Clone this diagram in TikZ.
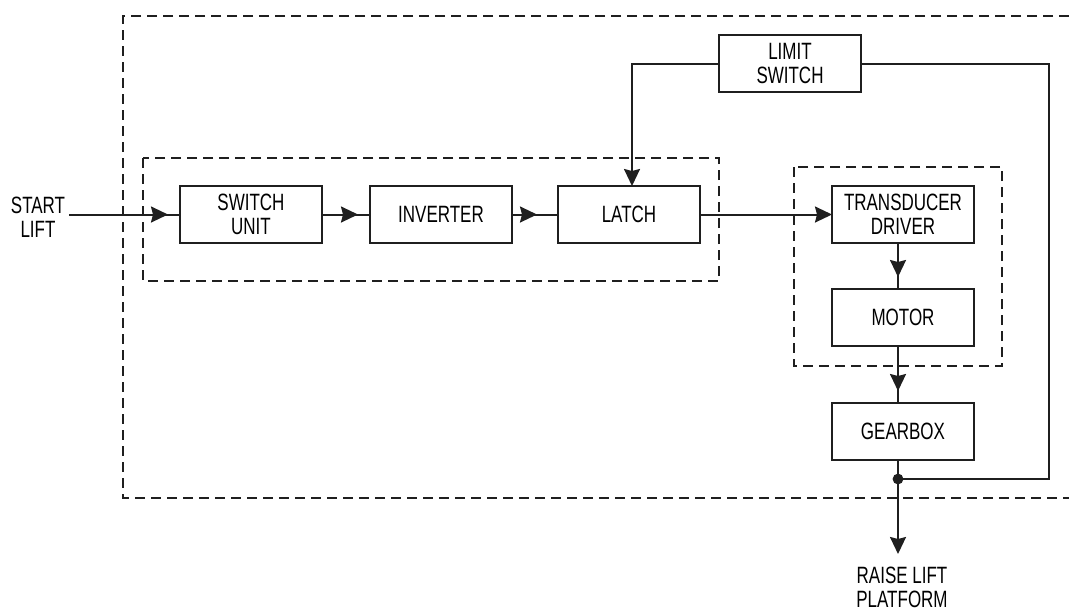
\documentclass[tikz,border=0pt]{standalone}
\usepackage{fontspec}
\setmainfont[FakeStretch=0.72]{Liberation Sans}
\usetikzlibrary{arrows.meta,decorations.markings,positioning}
\newcommand{\blockfont}{\fontsize{11.8}{12}\selectfont}
\tikzset{
  block/.style={rectangle, draw=black!88, line width=1pt, fill=white,
                minimum width=71pt, minimum height=28.5pt, outer sep=0pt,
                inner sep=0pt, align=center, font=\blockfont},
  tag/.style={align=center, inner sep=2pt, font=\blockfont},
  frame/.style={draw=black!88, line width=1pt, dash pattern=on 5pt off 3pt},
  wire/.style={draw=black!88, line width=1pt},
  flow/.style={wire, decoration={markings, mark=at position #1 with
               {\arrow{Stealth[length=8.5pt,width=8pt,inset=1pt]}}},
               postaction={decorate}},
  flow/.default=-6pt,
  tipflow/.style={wire, -{Stealth[length=8.5pt,width=8pt,inset=1pt]}},
}

\begin{document}
\begin{tikzpicture}[x=0.5pt, y=-0.5pt]

\useasboundingbox (0,0) rectangle (1069,612);

%% Dashed frames (outer one runs off the right edge)
\draw[frame] (1069,16) -- (123,16) -- (123,498) -- (1069,498);
\draw[frame] (143,158) rectangle (719,281);
\draw[frame] (794,167) rectangle (1002,366);

%% Blocks
\node[block] (switch) at (251,214.5) {SWITCH\\UNIT};
\node[block, right=24pt of switch] (inverter) {INVERTER};
\node[block, right=23pt of inverter] (latch) {LATCH};
\node[block, right=66pt of latch] (tdriver) {TRANSDUCER\\DRIVER};
\node[block, below=23pt of tdriver] (motor) {MOTOR};
\node[block, below=28.5pt of motor] (gearbox) {GEARBOX};
\node[block] (limit) at (790,63.5) {LIMIT\\SWITCH};

%% Input / output labels
\node[tag] (start) at (38,217) {START\\LIFT};
\node[tag] (raise) at (902,587) {RAISE LIFT\\PLATFORM};

%% Junction and free ends
\coordinate (tap) at (898,479);
\coordinate (loop) at (1049,479);
\coordinate (out) at (898,554);

%% Main chain
\draw[flow] (start.east |- switch) -- (switch);
\draw[flow] (switch) -- (inverter);
\draw[flow=-10.5pt] (inverter) -- (latch);
\draw[tipflow] (latch) -- (tdriver);
\draw[flow] ([xshift=-2.5pt]tdriver.south) -- ([xshift=-2.5pt]motor.north);
\draw[flow] ([xshift=-2.5pt]motor.south) -- ([xshift=-2.5pt]gearbox.north);
\draw[tipflow] ([xshift=-2.5pt]gearbox.south) -- (out);

%% Limit switch feedback loop
\draw[tipflow] (limit.west) -| ([xshift=1.5pt]latch.north);
\draw[wire] (limit.east) -| (loop) -- (tap);
\fill[black!88] (tap) circle (2.7pt);

\end{tikzpicture}
\end{document}
